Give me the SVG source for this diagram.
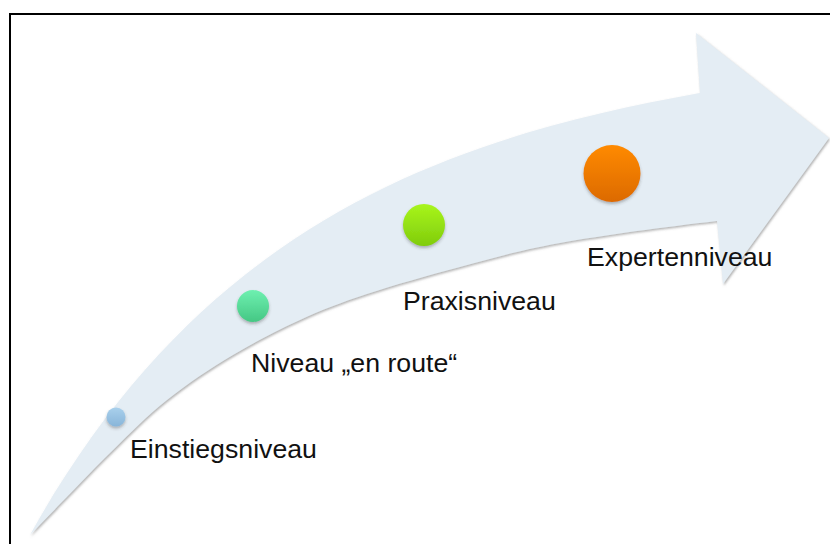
<svg xmlns="http://www.w3.org/2000/svg" width="830" height="544" viewBox="0 0 830 544">
  <style>
    .label { font-family: "Liberation Sans", Arial, sans-serif; font-size: 26.7px; fill: #111; }
    .frame { fill: none; stroke: #000; stroke-width: 2; }
  </style>
  <defs>
    <filter id="arrowShadow" x="-5%" y="-5%" width="110%" height="115%">
      <feDropShadow dx="1" dy="1.5" stdDeviation="1.2" flood-color="#6f6f6f" flood-opacity="0.55"/>
    </filter>
    <filter id="dotShadow" x="-30%" y="-30%" width="160%" height="170%">
      <feDropShadow dx="0" dy="2" stdDeviation="1.6" flood-color="#3a3a3a" flood-opacity="0.35"/>
    </filter>
    <linearGradient id="gBlue" x1="0" y1="0" x2="0" y2="1">
      <stop offset="0" stop-color="#a9d0ec"/>
      <stop offset="1" stop-color="#88b5d9"/>
    </linearGradient>
    <linearGradient id="gTeal" x1="0" y1="0" x2="0" y2="1">
      <stop offset="0" stop-color="#6ef0b0"/>
      <stop offset="1" stop-color="#45c784"/>
    </linearGradient>
    <linearGradient id="gLime" x1="0" y1="0" x2="0" y2="1">
      <stop offset="0" stop-color="#a8f51c"/>
      <stop offset="1" stop-color="#80cc0c"/>
    </linearGradient>
    <linearGradient id="gOrange" x1="0" y1="0" x2="0" y2="1">
      <stop offset="0" stop-color="#ff8a02"/>
      <stop offset="1" stop-color="#dc6a00"/>
    </linearGradient>
  </defs>

  <rect width="830" height="544" fill="#fff"/>
  <path class="frame" d="M10,546 V14 H832"/>

  <!-- curved progress arrow -->
  <g id="arrow">
    <path filter="url(#arrowShadow)" fill="#e4edf4"
      d="M30,535
         C205,220 450,138 700,93
         L696,33 L829,138 L723,284 L717,221
         C665,227 602.8,235.3 560,243
         C517.2,250.7 492.2,258.5 460,267
         C427.8,275.5 393.7,285.2 367,294
         C340.3,302.8 322.3,309.8 300,320
         C277.7,330.2 255.2,341.7 233,355
         C210.8,368.3 187.5,383.7 167,400
         C146.5,416.3 132.8,430.5 110,453
         C87.2,475.5 56.7,507.7 30,535 Z"/>
  </g>

  <g id="level-entry">
    <circle cx="116" cy="417" r="9.5" fill="url(#gBlue)" filter="url(#dotShadow)"/>
    <text class="label" x="130" y="458">Einstiegsniveau</text>
  </g>

  <g id="level-en-route">
    <circle cx="253" cy="306" r="16" fill="url(#gTeal)" filter="url(#dotShadow)"/>
    <text class="label" x="251" y="372">Niveau „en route“</text>
  </g>

  <g id="level-practice">
    <circle cx="424" cy="225" r="21" fill="url(#gLime)" filter="url(#dotShadow)"/>
    <text class="label" x="403" y="310">Praxisniveau</text>
  </g>

  <g id="level-expert">
    <circle cx="612" cy="173.5" r="28.5" fill="url(#gOrange)" filter="url(#dotShadow)"/>
    <text class="label" x="587" y="266">Expertenniveau</text>
  </g>
</svg>
